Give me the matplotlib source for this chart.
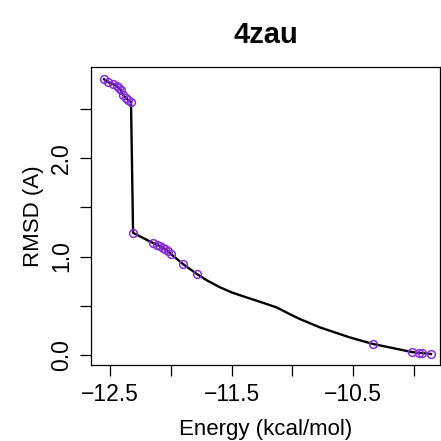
import numpy as np
import matplotlib
matplotlib.use("Agg")
import matplotlib.pyplot as plt

plt.rcParams['font.family'] = ['Liberation Sans', 'DejaVu Sans']

# docked poses: energy vs RMSD
energy = [-12.549, -12.516, -12.475, -12.442, -12.426, -12.41, -12.393, -12.368,
          -12.352, -12.327, -12.31, -12.146, -12.113, -12.089, -12.064, -12.048,
          -12.023, -11.998, -11.90, -11.785, -10.337, -10.016, -9.959, -9.934, -9.860]
rmsd = [2.80, 2.77, 2.75, 2.73, 2.71, 2.69, 2.64, 2.61,
        2.59, 2.57, 1.24, 1.137, 1.117, 1.107, 1.086, 1.076,
        1.056, 1.025, 0.924, 0.822, 0.112, 0.030, 0.020, 0.020, 0.010]

# fitted curve between the poses
curve_x = [-11.785, -11.70, -11.60, -11.50, -11.40, -11.266, -11.127, -11.03,
           -10.938, -10.773, -10.526, -10.337]
curve_y = [0.822, 0.756, 0.690, 0.636, 0.594, 0.540, 0.482, 0.420,
           0.365, 0.280, 0.178, 0.112]

line_x = energy[:20] + curve_x[1:] + energy[21:]
line_y = rmsd[:20] + curve_y[1:] + rmsd[21:]

fig = plt.figure(figsize=(4.41, 4.41), dpi=100)
ax = fig.add_axes([91/441, 76/441, 349/441, 298/441])

ax.plot(line_x, line_y, color='black', lw=1.7, zorder=2)
ax.plot(energy, rmsd, 'o', mfc='none', mec='#8A2BE2', mew=1.1, ms=5.6, zorder=3)

ax.set_xlim(-12.656, -9.786)
ax.set_ylim(-0.1015, 2.924)

xt = [-12.5, -12.0, -11.5, -11.0, -10.5, -10.0]
ax.set_xticks(xt)
ax.set_xticklabels(['\u221212.5', '', '\u221211.5', '', '\u221210.5', ''])
yt = [0.0, 0.5, 1.0, 1.5, 2.0, 2.5]
ax.set_yticks(yt)
ax.set_yticklabels(['0.0', '', '1.0', '', '2.0', ''], rotation=90, va='center')

ax.tick_params(axis='both', length=8, width=0.9, labelsize=16.5, pad=5)
for s in ax.spines.values():
    s.set_linewidth(0.9)

ax.set_xlabel('Energy (kcal/mol)', fontsize=16, labelpad=9)
ax.set_ylabel('RMSD (A)', fontsize=16, labelpad=4)
ax.set_title('4zau', fontsize=21, fontweight='bold', pad=17)

fig.savefig('out.png', dpi=100)
